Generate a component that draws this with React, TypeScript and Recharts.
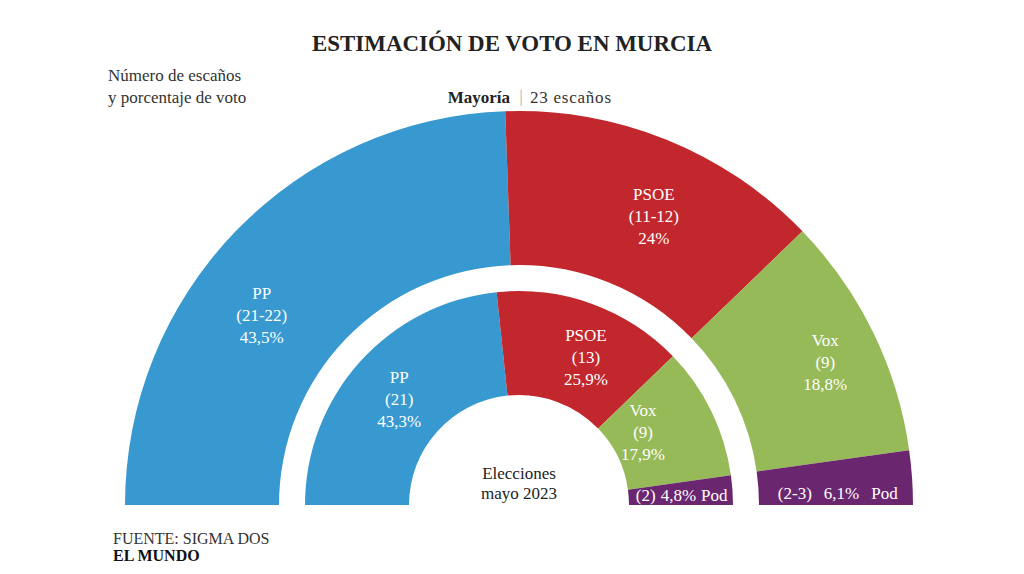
import { Pie, PieChart } from "recharts";

const parties = ["PP", "PSOE", "Vox", "Pod"];
const colors = ["#3799cf", "#c1272d", "#97ba59", "#6b2670"];

// estimación (anillo exterior)
const estimateSeats = [22, 12, 9, 2];
const estimateRange = ["21-22", "11-12", "9", "2-3"];
const estimatePct = ["43,5%", "24%", "18,8%", "6,1%"];

// elecciones mayo 2023 (anillo interior)
const electionSeats = [21, 13, 9, 2];
const electionRange = ["21", "13", "9", "2"];
const electionPct = ["43,3%", "25,9%", "17,9%", "4,8%"];

const CX = 519;
const CY = 505;
const FONT = "'Liberation Serif', 'DejaVu Serif', serif";

// [angle, radius] of each label, per ring
const outerLabelPos: [number, number][] = [[143.5, 320], [65, 319], [25, 338], [2.2, 319]];
const innerLabelPos: [number, number][] = [[138.5, 160], [65.6, 162], [30.5, 144], [3.5, 163]];

const outerData = parties.map((name, i) => ({
  name,
  value: estimateSeats[i],
  range: estimateRange[i],
  pct: estimatePct[i],
  fill: colors[i],
}));

const innerData = parties.map((name, i) => ({
  name,
  value: electionSeats[i],
  range: electionRange[i],
  pct: electionPct[i],
  fill: colors[i],
}));

const RAD = Math.PI / 180;

function makeLabel(pos: [number, number][], podGap: number) {
  return function RingLabel(props: any) {
    const { index, cx, cy, payload } = props;
    const [angle, r] = pos[index];
    const x = cx + r * Math.cos(angle * RAD);
    const y = cy - r * Math.sin(angle * RAD);
    const d = payload?.payload ?? payload;
    if (d.name === "Pod") {
      return (
        <text x={x} y={y} fill="#fff" fontFamily={FONT} fontSize={17} textAnchor="middle" dominantBaseline="central">
          <tspan>{`(${d.range})`}</tspan>
          <tspan dx={podGap}>{d.pct}</tspan>
          <tspan dx={podGap}>Pod</tspan>
        </text>
      );
    }
    return (
      <text fill="#fff" fontFamily={FONT} fontSize={17} textAnchor="middle" dominantBaseline="central">
        <tspan x={x} y={y - 22}>{d.name}</tspan>
        <tspan x={x} y={y}>{`(${d.range})`}</tspan>
        <tspan x={x} y={y + 22}>{d.pct}</tspan>
      </text>
    );
  };
}

export default function App() {
  return (
    <div style={{ position: "absolute", left: 0, top: 0, width: 1024, height: 574, background: "#fff" }}>
      <PieChart width={1024} height={574} margin={{ top: 0, right: 0, bottom: 0, left: 0 }}>
        <text
          x={512}
          y={51}
          textAnchor="middle"
          fontFamily={FONT}
          fontWeight="bold"
          fontSize={24}
          fill="#222"
          textLength={400}
          lengthAdjust="spacingAndGlyphs"
        >
          ESTIMACIÓN DE VOTO EN MURCIA
        </text>
        <text x={108} y={81} fontFamily={FONT} fontSize={17} fill="#333">Número de escaños</text>
        <text x={108} y={103} fontFamily={FONT} fontSize={17} fill="#333">y porcentaje de voto</text>
        <text x={510} y={103} textAnchor="end" fontFamily={FONT} fontSize={17} fontWeight="bold" fill="#222">
          Mayoría
        </text>
        <text x={521} y={102} textAnchor="middle" fontFamily={FONT} fontSize={16} fill="#aaa">|</text>
        <text x={530} y={103} fontFamily={FONT} fontSize={17} fill="#333" textLength={81}>
          23 escaños
        </text>
        <Pie
          data={outerData}
          dataKey="value"
          cx={CX}
          cy={CY}
          startAngle={180}
          endAngle={0}
          innerRadius={240}
          outerRadius={394}
          stroke="none"
          label={makeLabel(outerLabelPos, 12)}
          labelLine={false}
          isAnimationActive={false}
        />
        <Pie
          data={innerData}
          dataKey="value"
          cx={CX}
          cy={CY}
          startAngle={180}
          endAngle={0}
          innerRadius={110}
          outerRadius={214}
          stroke="none"
          label={makeLabel(innerLabelPos, 5)}
          labelLine={false}
          isAnimationActive={false}
        />
        <text x={CX} y={479} textAnchor="middle" fontFamily={FONT} fontSize={17} fill="#222">Elecciones</text>
        <text x={CX} y={499} textAnchor="middle" fontFamily={FONT} fontSize={17} fill="#222">mayo 2023</text>
        <text x={113} y={544} fontFamily={FONT} fontSize={16} fill="#333">FUENTE: SIGMA DOS</text>
        <text x={113} y={561} fontFamily={FONT} fontSize={16} fontWeight="bold" fill="#111">EL MUNDO</text>
      </PieChart>
    </div>
  );
}
